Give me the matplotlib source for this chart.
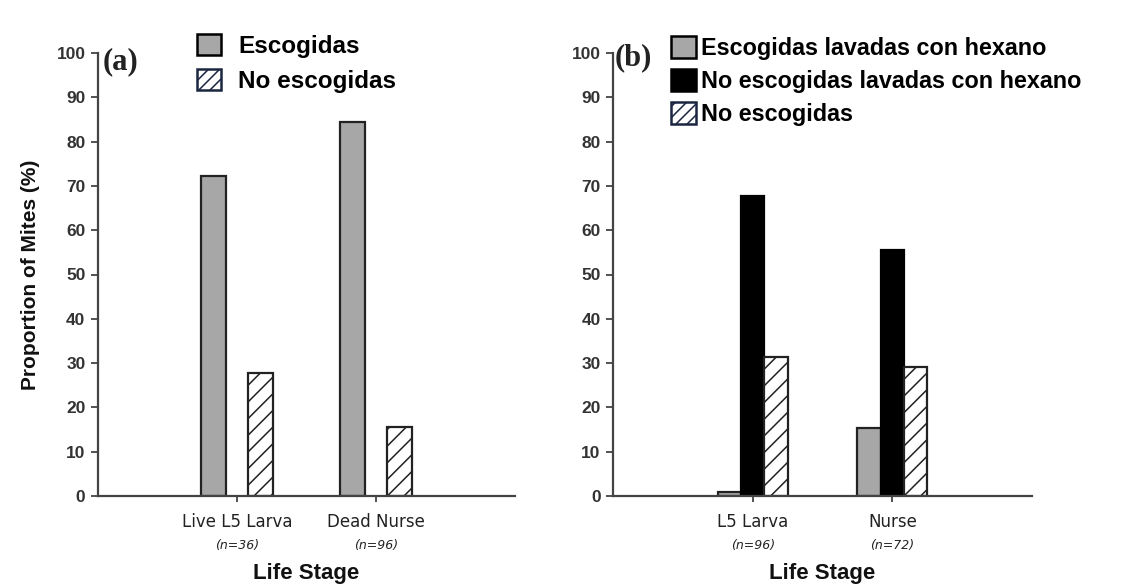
import numpy as np
import matplotlib.pyplot as plt
from matplotlib.patches import Patch

# panel (a)
stages_a = ["Live L5 Larva", "Dead Nurse"]
n_a = ["(n=36)", "(n=96)"]
escogidas_a = [72.2, 84.4]
no_escogidas_a = [27.8, 15.6]

# panel (b)
stages_b = ["L5 Larva", "Nurse"]
n_b = ["(n=96)", "(n=72)"]
escogidas_hex = [1.0, 15.3]
no_escogidas_hex = [67.7, 55.6]
no_escogidas_b = [31.3, 29.2]

yticks = [0, 10, 20, 30, 40, 50, 60, 70, 80, 90, 100]

GRAY = "#a8a7a8"
EDGE = "#222222"
AXC = "#444444"
plt.rcParams["hatch.linewidth"] = 1.1

fig = plt.figure(figsize=(11.26, 5.84), dpi=100)
ax1 = fig.add_axes([98 / 1126, 1 - 496 / 584, 417 / 1126, 443 / 584])
ax2 = fig.add_axes([613 / 1126, 1 - 496 / 584, 419 / 1126, 443 / 584])


def style(ax, stages, ns):
    ax.set_xlim(0, 3)
    ax.set_ylim(0, 100)
    ax.set_yticks(yticks)
    ax.set_yticklabels([str(t) for t in yticks], fontsize=12.5, fontweight="bold",
                       family="Liberation Sans", color="#333333")
    ax.set_xticks([1, 2])
    ax.set_xticklabels(stages, fontsize=12, family="DejaVu Sans", color="#222222")
    for s in ["top", "right"]:
        ax.spines[s].set_visible(False)
    for s in ["left", "bottom"]:
        ax.spines[s].set_color(AXC)
        ax.spines[s].set_linewidth(1.6)
    ax.tick_params(axis="y", length=5, width=1.3, color=AXC, pad=4)
    ax.tick_params(axis="x", length=4, width=1.3, color=AXC, pad=8)
    for x, n in zip([1, 2], ns):
        ax.text(x, -0.111, n, transform=ax.get_xaxis_transform(), ha="center",
                va="center", fontsize=9, style="italic", family="DejaVu Sans",
                color="#222222")
    ax.text(0.5, -0.176, "Life Stage", transform=ax.transAxes, ha="center",
            va="center", fontsize=16, fontweight="bold", family="Liberation Sans",
            color="#111111")


x = np.arange(1, 3)

w = 0.18
ax1.bar(x - 0.17, escogidas_a, w, color=GRAY, edgecolor=EDGE, linewidth=1.6)
ax1.bar(x + 0.17, no_escogidas_a, w, color="white", edgecolor=EDGE, linewidth=1.6,
        hatch="//")
style(ax1, stages_a, n_a)
ax1.set_ylabel("Proportion of Mites (%)", fontsize=15, fontweight="bold",
               family="Liberation Sans", color="#111111")
ax1.yaxis.set_label_coords(-0.14, 0.5)
ax1.text(0.012, 0.98, "(a)", transform=ax1.transAxes, ha="left", va="center",
         fontsize=22, fontweight="bold", family="Liberation Serif", color="#222222")

wb = 0.167
ax2.bar(x - wb, escogidas_hex, wb, color=GRAY, edgecolor=EDGE, linewidth=1.6)
ax2.bar(x, no_escogidas_hex, wb, color="black", edgecolor="black", linewidth=1.6)
ax2.bar(x + wb, no_escogidas_b, wb, color="white", edgecolor=EDGE, linewidth=1.6,
        hatch="//")
style(ax2, stages_b, n_b)
ax2.text(0.005, 0.99, "(b)", transform=ax2.transAxes, ha="left", va="center",
         fontsize=22, fontweight="bold", family="Liberation Serif", color="#222222")

# legends
h_gray = Patch(facecolor=GRAY, edgecolor="black", linewidth=1.8)
h_black = Patch(facecolor="black", edgecolor="black", linewidth=1.8)
h_hatch = Patch(facecolor="white", edgecolor="#1a2540", linewidth=1.8, hatch="///")

fig.legend([h_gray, h_hatch], ["Escogidas", "No escogidas"], loc="upper left",
           bbox_to_anchor=(197 / 1126, 1 - 34 / 584), frameon=False,
           prop={"family": "Liberation Sans", "weight": "bold", "size": 17.5},
           handlelength=1.0, handleheight=0.95, handletextpad=0.7,
           labelspacing=0.45, borderpad=0, borderaxespad=0)
fig.legend([h_gray, h_black, h_hatch],
           ["Escogidas lavadas con hexano", "No escogidas lavadas con hexano",
            "No escogidas"], loc="upper left",
           bbox_to_anchor=(671 / 1126, 1 - 36 / 584), frameon=False,
           prop={"family": "Liberation Sans", "weight": "bold", "size": 16.8},
           handlelength=1.05, handleheight=1.05, handletextpad=0.25,
           labelspacing=0.4, borderpad=0, borderaxespad=0)

fig.savefig("out.png", dpi=100)
